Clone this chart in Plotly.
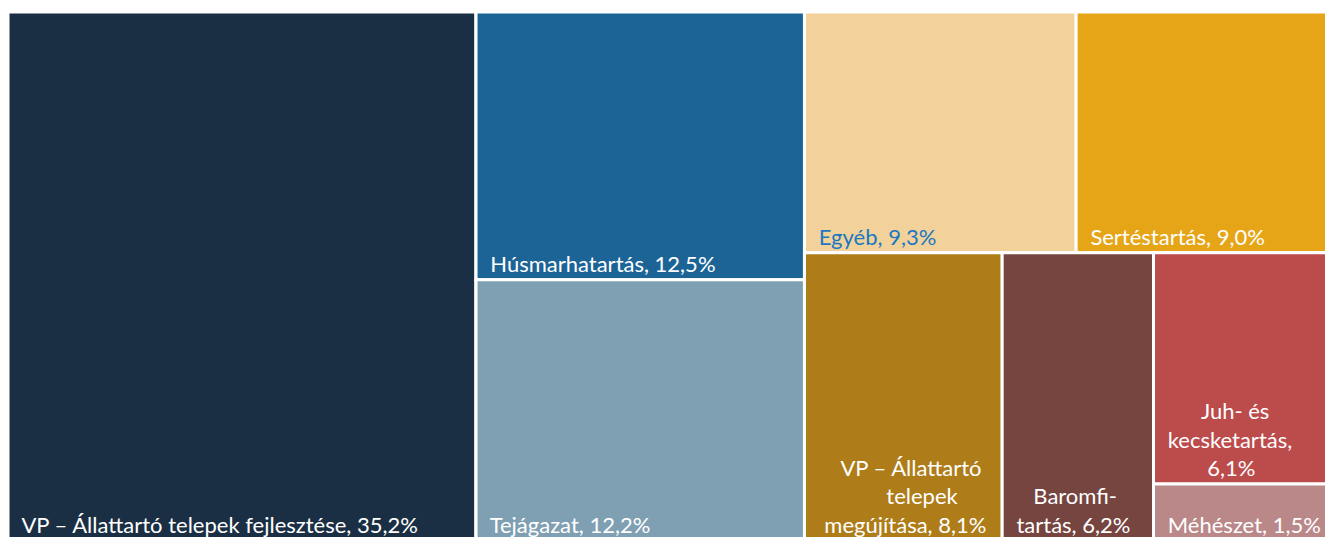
import plotly.graph_objects as go

# leaf data
categories = [
    "VP – Állattartó telepek fejlesztése",
    "Húsmarhatartás",
    "Tejágazat",
    "Egyéb",
    "Sertéstartás",
    "VP – Állattartó telepek megújítása",
    "Baromfitartás",
    "Juh- és kecsketartás",
    "Méhészet",
]
shares = [35.2, 12.5, 12.2, 9.3, 9.0, 8.1, 6.2, 6.1, 1.5]
# label lines, with leading-space counts to mimic the original's text insets
label_lines = [
    [("VP – Állattartó telepek fejlesztése, 35,2%", 2)],
    [("Húsmarhatartás, 12,5%", 2)],
    [("Tejágazat, 12,2%", 2)],
    [("Egyéb, 9,3%", 2)],
    [("Sertéstartás, 9,0%", 2)],
    [("VP – Állattartó", 6), ("telepek", 14), ("megújítása, 8,1%", 3)],
    [("Baromfi-", 5), ("tartás, 6,2%", 2)],
    [("Juh- és", 8), ("kecsketartás,", 2), ("6,1%", 9)],
    [("Méhészet, 1,5%", 2)],
]
colors = ["#1B2F44", "#1D6496", "#7FA0B2", "#F2D29A", "#E6A517",
          "#AE7D1A", "#76453F", "#BC4B4B", "#BA8889"]
text_colors = ["white", "white", "white", "#1A78C2", "white",
               "white", "white", "white", "white"]

# grouping of the tiles (as arranged in the original treemap)
group_ids = ["g_col2", "g_col3", "g_row1", "g_row2", "g_small"]
group_parents = ["", "", "g_col3", "g_col3", "g_row2"]
leaf_parents = ["", "g_col2", "g_col2", "g_row1", "g_row1",
                "g_row2", "g_row2", "g_small", "g_small"]

NBSP = "\u00a0"
display_labels = ["<br>".join(NBSP * n + s for s, n in lines) for lines in label_lines]

ids = categories + group_ids
labels = categories + [""] * len(group_ids)
parents = leaf_parents + group_parents
values = shares + [0] * len(group_ids)
texts = display_labels + [""] * len(group_ids)
tile_colors = colors + ["white"] * len(group_ids)
font_colors = text_colors + ["white"] * len(group_ids)

fig = go.Figure(go.Treemap(
    ids=ids,
    labels=labels,
    parents=parents,
    values=values,
    branchvalues="remainder",
    text=texts,
    texttemplate="%{text}",
    textposition="bottom left",
    textfont=dict(family="Lato, Open Sans, sans-serif", size=22, color=font_colors),
    marker=dict(colors=tile_colors, line=dict(color="white", width=3),
                pad=dict(t=0, l=0, r=0, b=0)),
    tiling=dict(packing="slice-dice", pad=0),
    pathbar=dict(visible=False),
    sort=False,
    hoverinfo="skip",
))
fig.update_layout(
    width=1339, height=541,
    margin=dict(l=8, r=0, t=12, b=0),
    paper_bgcolor="white",
)
fig.write_html(
    "out.html",
    config={"displayModeBar": False},
    post_script="document.body.style.margin='0';document.body.style.overflow='hidden';",
)
